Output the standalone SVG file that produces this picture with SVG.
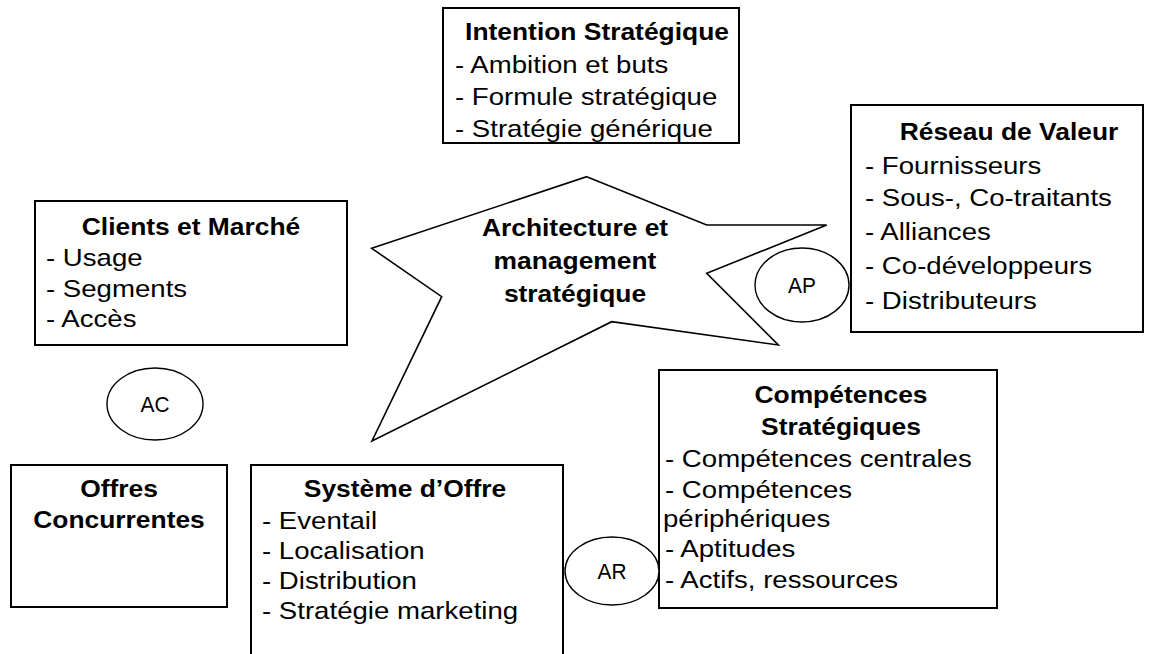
<svg xmlns="http://www.w3.org/2000/svg" width="1154" height="654" viewBox="0 0 1154 654">
<style>
.box{fill:#fff;stroke:#000;stroke-width:2}
.star{fill:#fff;stroke:#000;stroke-width:1.6;stroke-linejoin:miter}
.ell{fill:#fff;stroke:#000;stroke-width:1.4}
text{font-family:"Liberation Sans",Arial,sans-serif;font-size:24px;fill:#000}
.b{font-weight:bold;text-anchor:middle}
.lbl{font-size:22px;text-anchor:middle}
</style>
<rect width="1154" height="654" fill="#fff"/>
<g id="connectors"></g>

<g id="star">
<polygon class="star" points="586.7,176.7 706.7,225 826.7,225 706.7,273.3 778.3,345 611.7,321.7 372,441 441.7,296.7 371.7,248.3"/>
<text class="b" transform="translate(575,236) scale(1.1 1)">Architecture et</text>
<text class="b" transform="translate(575,269) scale(1.1 1)">management</text>
<text class="b" transform="translate(575,302) scale(1.1 1)">stratégique</text>
</g>

<g id="intention">
<rect class="box" x="443" y="8" width="296" height="135"/>
<text class="b" transform="translate(597,40) scale(1.1 1)">Intention Stratégique</text>
<text transform="translate(455,73) scale(1.15 1)">- Ambition et buts</text>
<text transform="translate(455,105) scale(1.15 1)">- Formule stratégique</text>
<text transform="translate(455,137) scale(1.15 1)">- Stratégie générique</text>
</g>

<g id="clients">
<rect class="box" x="35" y="201" width="312" height="144"/>
<text class="b" transform="translate(191,235) scale(1.1 1)">Clients et Marché</text>
<text transform="translate(46,266) scale(1.15 1)">- Usage</text>
<text transform="translate(46,297) scale(1.15 1)">- Segments</text>
<text transform="translate(46,327) scale(1.15 1)">- Accès</text>
</g>

<g id="reseau">
<rect class="box" x="851" y="105" width="292" height="227"/>
<text class="b" transform="translate(1009,140) scale(1.1 1)">Réseau de Valeur</text>
<text transform="translate(865,174) scale(1.15 1)">- Fournisseurs</text>
<text transform="translate(865,206) scale(1.15 1)">- Sous-, Co-traitants</text>
<text transform="translate(865,240) scale(1.15 1)">- Alliances</text>
<text transform="translate(865,274) scale(1.15 1)">- Co-développeurs</text>
<text transform="translate(865,309) scale(1.15 1)">- Distributeurs</text>
</g>

<g id="competences">
<rect class="box" x="659" y="370" width="338" height="238"/>
<text class="b" transform="translate(841,403) scale(1.1 1)">Compétences</text>
<text class="b" transform="translate(841,435) scale(1.1 1)">Stratégiques</text>
<text transform="translate(665,467) scale(1.15 1)">- Compétences centrales</text>
<text transform="translate(665,498) scale(1.15 1)">- Compétences</text>
<text transform="translate(663,527) scale(1.15 1)">périphériques</text>
<text transform="translate(665,557) scale(1.15 1)">- Aptitudes</text>
<text transform="translate(665,588) scale(1.15 1)">- Actifs, ressources</text>
</g>

<g id="offres">
<rect class="box" x="11" y="465" width="216" height="142"/>
<text class="b" transform="translate(119,497) scale(1.1 1)">Offres</text>
<text class="b" transform="translate(119,528) scale(1.1 1)">Concurrentes</text>
</g>

<g id="systeme">
<rect class="box" x="251" y="465" width="312" height="200"/>
<text class="b" transform="translate(405,497) scale(1.1 1)">Système d’Offre</text>
<text transform="translate(262,529) scale(1.15 1)">- Eventail</text>
<text transform="translate(262,559) scale(1.15 1)">- Localisation</text>
<text transform="translate(262,589) scale(1.15 1)">- Distribution</text>
<text transform="translate(262,619) scale(1.15 1)">- Stratégie marketing</text>
</g>

<g id="ac">
<ellipse class="ell" cx="155" cy="404" rx="48" ry="36"/>
<text class="lbl" transform="translate(155,412) scale(0.95 1)">AC</text>
</g>

<g id="ap">
<ellipse class="ell" cx="802" cy="285" rx="47" ry="37"/>
<text class="lbl" transform="translate(802,293) scale(0.95 1)">AP</text>
</g>

<g id="ar">
<ellipse class="ell" cx="612" cy="571" rx="47" ry="34"/>
<text class="lbl" transform="translate(612,579) scale(0.95 1)">AR</text>
</g>
</svg>
